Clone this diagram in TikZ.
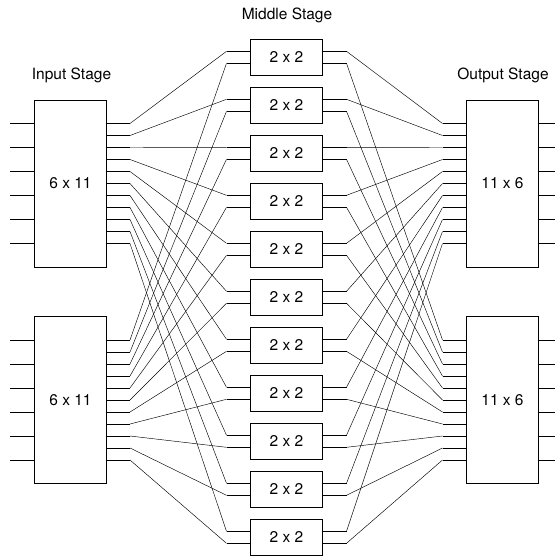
\documentclass[tikz,border=0pt]{standalone}
\usepackage{fontspec}
\setmainfont{TeX Gyre Heros}
\begin{document}
\begin{tikzpicture}[x=1pt,y=-1pt,
  box/.style={draw,line width=0.9pt,inner sep=0pt,font=\fontsize{15.5}{18}\selectfont},
  bigbox/.style={box,minimum width=72pt,minimum height=167pt},
  smallbox/.style={box,minimum width=72pt,minimum height=36pt},
  stub/.style={line width=0.9pt},
  wire/.style={line width=0.45pt},
  lbl/.style={font=\fontsize{15.5}{18}\selectfont,inner sep=0pt}]
\useasboundingbox (0,0) rectangle (555,557);
% labels
\node[lbl] (linput) at (71.5,75) {Input Stage};
\node[lbl] (lmiddle) at (287,15) {Middle Stage};
\node[lbl] (loutput) at (503,75) {Output Stage};
% input and output blocks
\node[bigbox] (in1) at (70.5,183.5) {6 x 11};
\node[bigbox] (in2) at (70.5,400) {6 x 11};
\node[bigbox] (out1) at (502.5,183.5) {11 x 6};
\node[bigbox] (out2) at (502.5,400) {11 x 6};
% outer stubs
\foreach \j in {0,...,5} {
  \coordinate (inA\j) at (10,123.5+24*\j);
  \coordinate (inB\j) at (10,340+24*\j);
  \coordinate (outA\j) at (555,123.5+24*\j);
  \coordinate (outB\j) at (555,340+24*\j);
  \draw[stub] (inA\j) -- (inA\j -| in1.west);
  \draw[stub] (inB\j) -- (inB\j -| in2.west);
  \draw[stub] (outA\j -| out1.east) -- (outA\j);
  \draw[stub] (outB\j -| out2.east) -- (outB\j);
}
% inner stubs of input/output blocks
\foreach \i in {0,...,10} {
  \coordinate (in1r\i) at (130,123.5+12*\i);
  \coordinate (in2r\i) at (130,340+12*\i);
  \coordinate (out1l\i) at (442.5,123.5+12*\i);
  \coordinate (out2l\i) at (442.5,340+12*\i);
  \draw[stub] (in1r\i -| in1.east) -- (in1r\i);
  \draw[stub] (in2r\i -| in2.east) -- (in2r\i);
  \draw[stub] (out1l\i) -- (out1l\i -| out1.west);
  \draw[stub] (out2l\i) -- (out2l\i -| out2.west);
}
% middle stage
\foreach \k in {0,...,10} {
  \node[smallbox] (m\k) at (286.5,57.3+48*\k) {2 x 2};
  \coordinate (mA\k) at (226.5,51.3+48*\k);
  \coordinate (mB\k) at (226.5,63.3+48*\k);
  \coordinate (mC\k) at (346.5,51.3+48*\k);
  \coordinate (mD\k) at (346.5,63.3+48*\k);
  \draw[stub] (mA\k) -- (mA\k -| m\k.west);
  \draw[stub] (mB\k) -- (mB\k -| m\k.west);
  \draw[stub] (mC\k -| m\k.east) -- (mC\k);
  \draw[stub] (mD\k -| m\k.east) -- (mD\k);
  \draw[wire] (in1r\k) -- (mA\k);
  \draw[wire] (in2r\k) -- (mB\k);
  \draw[wire] (mC\k) -- (out1l\k);
  \draw[wire] (mD\k) -- (out2l\k);
}
\end{tikzpicture}
\end{document}
